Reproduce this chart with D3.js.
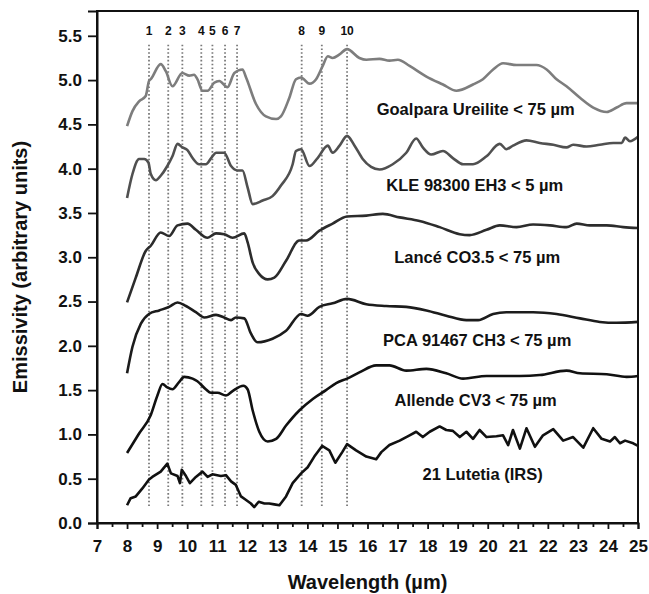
<!DOCTYPE html>
<html lang="en">
<head>
<meta charset="UTF-8">
<title>Emissivity spectra</title>
<style>
  body { margin: 0; background: #fff; }
  svg text { font-family: "Liberation Sans", Arial, sans-serif; font-weight: bold; fill: #111; }
</style>
</head>
<body>
<svg></svg>
<script src="https://cdnjs.cloudflare.com/ajax/libs/d3/7.8.5/d3.min.js"></script>
<script>

// spectra, [wavelength (um), emissivity (offset)]
var goalpara = [[8.0,4.48],[8.18,4.65],[8.4,4.76],[8.62,4.82],[8.73,4.99],[8.79,5.01],[9.12,5.18],[9.29,5.10],[9.51,4.93],[9.84,5.08],[10.07,5.05],[10.23,5.06],[10.34,5.01],[10.51,4.88],[10.68,4.88],[10.9,4.97],[11.07,4.99],[11.34,4.92],[11.57,5.08],[11.84,5.12],[11.96,5.03],[12.29,4.73],[12.62,4.59],[12.96,4.56],[13.12,4.59],[13.4,4.80],[13.62,5.01],[13.79,5.03],[14.07,4.96],[14.29,5.01],[14.51,5.16],[14.68,5.27],[14.84,5.25],[15.07,5.29],[15.32,5.35],[15.73,5.25],[15.96,5.23],[16.4,5.24],[16.73,5.22],[17.01,5.23],[17.4,5.16],[17.96,5.04],[18.51,4.95],[18.96,4.88],[19.51,4.95],[19.84,5.01],[20.18,5.12],[20.51,5.19],[20.96,5.17],[21.62,5.17],[21.96,5.12],[22.29,5.01],[22.62,4.93],[23.07,4.80],[23.51,4.69],[23.96,4.64],[24.29,4.69],[24.62,4.74],[25.0,4.74]];

var kle = [[8.0,3.67],[8.18,3.94],[8.4,4.11],[8.57,4.11],[8.71,4.07],[8.79,3.94],[8.96,3.87],[9.12,3.92],[9.34,4.03],[9.51,4.14],[9.68,4.28],[9.84,4.24],[10.01,4.21],[10.18,4.12],[10.4,4.05],[10.62,4.05],[10.84,4.14],[10.96,4.18],[11.23,4.18],[11.46,4.03],[11.68,3.98],[11.84,3.98],[12.01,3.79],[12.18,3.60],[12.51,3.64],[12.84,3.69],[13.12,3.81],[13.51,4.05],[13.62,4.20],[13.79,4.22],[14.07,4.03],[14.34,4.12],[14.68,4.26],[14.84,4.18],[15.07,4.26],[15.32,4.37],[15.57,4.26],[15.84,4.11],[16.12,4.02],[16.4,3.99],[16.84,4.05],[17.29,4.18],[17.62,4.34],[17.84,4.24],[18.12,4.16],[18.51,4.20],[18.84,4.12],[19.18,4.05],[19.51,4.05],[19.96,4.14],[20.4,4.28],[20.62,4.22],[20.84,4.26],[21.29,4.32],[21.73,4.29],[22.18,4.27],[22.62,4.24],[22.84,4.27],[23.29,4.25],[23.73,4.27],[24.18,4.29],[24.46,4.29],[24.57,4.35],[24.73,4.31],[25.0,4.36]];

var lance = [[8.0,2.49],[8.29,2.77],[8.62,3.07],[8.79,3.13],[9.12,3.28],[9.4,3.24],[9.68,3.36],[10.01,3.38],[10.29,3.31],[10.68,3.22],[10.96,3.27],[11.23,3.26],[11.51,3.22],[11.9,3.27],[12.01,3.17],[12.18,2.94],[12.4,2.81],[12.68,2.75],[12.9,2.77],[13.29,2.96],[13.73,3.19],[13.96,3.19],[14.4,3.30],[14.84,3.38],[15.32,3.46],[15.96,3.47],[16.51,3.49],[17.07,3.45],[17.73,3.41],[18.4,3.34],[19.07,3.26],[19.4,3.25],[19.96,3.31],[20.4,3.36],[20.96,3.34],[21.51,3.37],[22.07,3.36],[22.62,3.34],[22.96,3.38],[23.4,3.36],[23.96,3.36],[24.51,3.34],[25.0,3.33]];

var pca = [[8.0,1.69],[8.18,1.99],[8.46,2.25],[8.73,2.36],[9.07,2.40],[9.4,2.44],[9.68,2.49],[9.96,2.45],[10.29,2.38],[10.57,2.32],[10.96,2.35],[11.23,2.32],[11.46,2.29],[11.62,2.32],[11.9,2.31],[12.12,2.14],[12.34,2.04],[12.84,2.08],[13.29,2.17],[13.79,2.36],[14.01,2.34],[14.4,2.44],[14.84,2.48],[15.32,2.53],[15.96,2.47],[16.62,2.45],[17.29,2.44],[17.96,2.40],[18.62,2.34],[19.29,2.29],[19.68,2.29],[20.18,2.36],[20.62,2.38],[21.51,2.38],[22.29,2.36],[23.07,2.31],[23.73,2.27],[24.29,2.26],[25.0,2.27]];

var allende = [[8.0,0.79],[8.4,1.01],[8.79,1.22],[9.01,1.44],[9.18,1.57],[9.34,1.53],[9.51,1.51],[9.73,1.59],[9.9,1.65],[10.18,1.63],[10.34,1.60],[10.62,1.51],[10.79,1.47],[11.01,1.47],[11.29,1.44],[11.51,1.49],[11.87,1.55],[12.01,1.51],[12.18,1.27],[12.4,1.03],[12.68,0.92],[12.96,0.95],[13.29,1.10],[13.73,1.27],[14.18,1.40],[14.62,1.50],[14.96,1.58],[15.32,1.63],[15.73,1.70],[16.29,1.78],[16.73,1.78],[17.29,1.72],[17.96,1.74],[18.62,1.69],[19.18,1.63],[19.96,1.66],[21.07,1.66],[21.73,1.67],[22.62,1.72],[23.07,1.69],[23.96,1.68],[24.62,1.65],[25.0,1.66]];

var lutetia = [[8.0,0.20],[8.12,0.28],[8.29,0.30],[8.51,0.39],[8.73,0.49],[8.84,0.52],[9.12,0.58],[9.34,0.67],[9.46,0.56],[9.68,0.53],[9.76,0.45],[9.82,0.60],[9.96,0.53],[10.09,0.45],[10.29,0.52],[10.51,0.58],[10.68,0.52],[10.84,0.55],[11.12,0.53],[11.29,0.54],[11.46,0.47],[11.62,0.43],[11.79,0.30],[11.96,0.26],[12.12,0.22],[12.23,0.18],[12.38,0.24],[12.57,0.22],[12.73,0.22],[12.9,0.21],[13.07,0.20],[13.29,0.30],[13.51,0.45],[13.79,0.56],[14.01,0.63],[14.23,0.75],[14.49,0.87],[14.73,0.82],[14.93,0.68],[15.16,0.80],[15.32,0.89],[15.62,0.82],[15.96,0.75],[16.29,0.72],[16.46,0.80],[16.73,0.88],[17.07,0.93],[17.4,0.99],[17.62,1.03],[17.84,0.97],[18.07,1.03],[18.4,1.09],[18.62,1.05],[18.84,1.04],[19.07,0.97],[19.29,1.03],[19.51,0.95],[19.73,1.05],[19.96,0.97],[20.29,0.98],[20.51,0.99],[20.68,0.88],[20.84,1.05],[21.07,0.84],[21.29,1.07],[21.57,0.86],[21.84,0.99],[22.18,1.06],[22.51,0.93],[22.84,0.97],[23.18,0.85],[23.51,1.07],[23.79,0.95],[24.07,0.92],[24.23,0.97],[24.4,0.90],[24.57,0.93],[24.84,0.90],[25.0,0.87]];

var seriesNames = ["Goalpara Ureilite < 75 \u00b5m", "KLE 98300 EH3 < 5 \u00b5m", "Lanc\u00e9 CO3.5 < 75 \u00b5m",
                   "PCA 91467 CH3 < 75 \u00b5m", "Allende CV3 < 75 \u00b5m", "21 Lutetia (IRS)"];
var seriesData = [goalpara, kle, lance, pca, allende, lutetia];
// where each name sits (wavelength, emissivity)
var labelPos = [[19.6,4.67],[19.57,3.81],[19.65,3.0],[19.65,2.06],[19.6,1.385],[19.83,0.55]];

// band positions marked by dotted lines
var bandX = [8.73, 9.37, 9.84, 10.47, 10.84, 11.26, 11.66, 13.81, 14.48, 15.32];
var bandLabels = ["1","2","3","4","5","6","7","8","9","10"];

var xTicks = d3.range(7, 26, 1);
var xMinor = d3.range(7.5, 25, 1);
var yTicks = d3.range(0, 5.51, 0.5);

var svgWidth = 649, svgHeight = 594;
var margin = { top: 11, right: 11, bottom: 71, left: 97 };
var width = svgWidth - margin.left - margin.right;
var height = svgHeight - margin.top - margin.bottom;

var svg = d3.select("svg").attr("width", svgWidth).attr("height", svgHeight);
var g = svg.append("g").attr("transform", "translate(" + margin.left + "," + margin.top + ")");

var x = d3.scaleLinear().domain([7, 25]).range([0, width]);
var y = d3.scaleLinear().domain([0, 5.78]).range([height, 0]);

var colors = ["#7d7d7d", "#505050", "#2c2c2c", "#1c1c1c", "#111", "#111"];

// dotted band lines
g.selectAll(".band").data(bandX).enter().append("line")
  .attr("x1", function(d) { return x(d); })
  .attr("x2", function(d) { return x(d); })
  .attr("y1", y(5.4))
  .attr("y2", y(0.17))
  .attr("stroke", "#7a7a7a")
  .attr("stroke-width", 1.8)
  .attr("stroke-dasharray", "1.6,2.2");

g.selectAll(".bandlabel").data(bandX).enter().append("text")
  .attr("x", function(d) { return x(d); })
  .attr("y", y(5.51))
  .attr("text-anchor", "middle")
  .style("font-size", "12px")
  .text(function(d, i) { return bandLabels[i]; });

var line = d3.line()
  .x(function(d) { return x(d[0]); })
  .y(function(d) { return y(d[1]); })
  .curve(d3.curveMonotoneX);

seriesData.forEach(function(s, i) {
  g.append("path")
    .datum(s)
    .attr("fill", "none")
    .attr("stroke", colors[i])
    .attr("stroke-width", 2.6)
    .attr("stroke-linejoin", "round")
    .attr("d", i == 5 ? line.curve(d3.curveLinear)(s) : line(s));
});

g.selectAll(".slabel").data(seriesNames).enter().append("text")
  .attr("x", function(d, i) { return x(labelPos[i][0]); })
  .attr("y", function(d, i) { return y(labelPos[i][1]); })
  .attr("dy", "0.35em")
  .attr("text-anchor", "middle")
  .style("font-size", "16.5px")
  .text(function(d) { return d; });

// frame
g.append("rect")
  .attr("width", width).attr("height", height)
  .attr("fill", "none").attr("stroke", "#111").attr("stroke-width", 2);

// axes
var xAxis = g.append("g").attr("transform", "translate(0," + height + ")")
  .call(d3.axisBottom(x).tickValues(xTicks).tickSize(6).tickPadding(11).tickFormat(d3.format("d")));
g.append("g").attr("transform", "translate(0," + height + ")")
  .call(d3.axisBottom(x).tickValues(xMinor).tickSize(4).tickFormat(""))
  .call(function(a) { a.select(".domain").remove(); });
var yAxis = g.append("g")
  .call(d3.axisLeft(y).tickValues(yTicks).tickSize(9).tickPadding(6).tickFormat(d3.format(".1f")));

svg.selectAll(".domain").attr("stroke", "#111").attr("stroke-width", 2);
svg.selectAll(".tick line").attr("stroke", "#111").attr("stroke-width", 1.8);
xAxis.selectAll("text").style("font-size", "17px").attr("fill", "#111");
yAxis.selectAll("text").style("font-size", "17px").attr("fill", "#111");

g.append("text")
  .attr("x", width / 2)
  .attr("y", height + 66)
  .attr("text-anchor", "middle")
  .style("font-size", "20px")
  .text("Wavelength (\u00b5m)");

g.append("text")
  .attr("transform", "rotate(-90)")
  .attr("x", -height / 2)
  .attr("y", -70)
  .attr("text-anchor", "middle")
  .style("font-size", "20px")
  .text("Emissivity (arbitrary units)");

</script>
</body>
</html>
